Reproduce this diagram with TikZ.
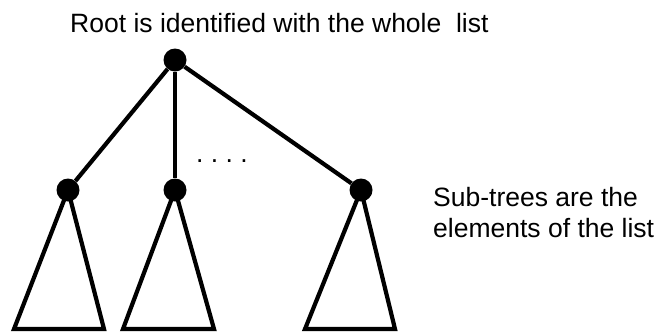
\documentclass[tikz,border=0pt]{standalone}
\usepackage{fontspec}
\setmainfont{Liberation Sans}

\begin{document}
\begin{tikzpicture}[
      x=1pt, y=-1pt,
      dot/.style={circle, fill=black, inner sep=0pt, minimum size=23pt},
      edge/.style={line width=4.2pt},
      lbl/.style={font=\fontsize{26.5}{31}\selectfont, inner sep=0pt}
    ]
    \useasboundingbox (0,0) rectangle (660,333);

    \node[lbl, anchor=base west] (title) at (70,32) {Root is identified with the whole\ \ list};

    \node[dot] (root) at (175,60) {};
    \node[dot] (c1) at (68,190) {};
    \node[dot] (c2) at (175,190) {};
    \node[dot] (c3) at (361,190) {};

    \node[lbl, anchor=base] (dots) at (222,162) {.\ .\ .\ .};

    \coordinate (b1l) at (14,329);  \coordinate (b1r) at (104,329);
    \coordinate (b2l) at (123,329); \coordinate (b2r) at (214,329);
    \coordinate (b3l) at (305,329); \coordinate (b3r) at (395,329);

    \node[lbl, anchor=base west, align=left] (note) at (433,237)
        {Sub-trees are the\\elements of the list};

    \draw[edge] (root) -- (c1);
    \draw[edge] (root) -- (c2);
    \draw[edge] (root) -- (c3);
    \draw[edge] (c1.center) -- (b1l) -- (b1r) -- cycle;
    \draw[edge] (c2.center) -- (b2l) -- (b2r) -- cycle;
    \draw[edge] (c3.center) -- (b3l) -- (b3r) -- cycle;
  \end{tikzpicture}
\end{document}
